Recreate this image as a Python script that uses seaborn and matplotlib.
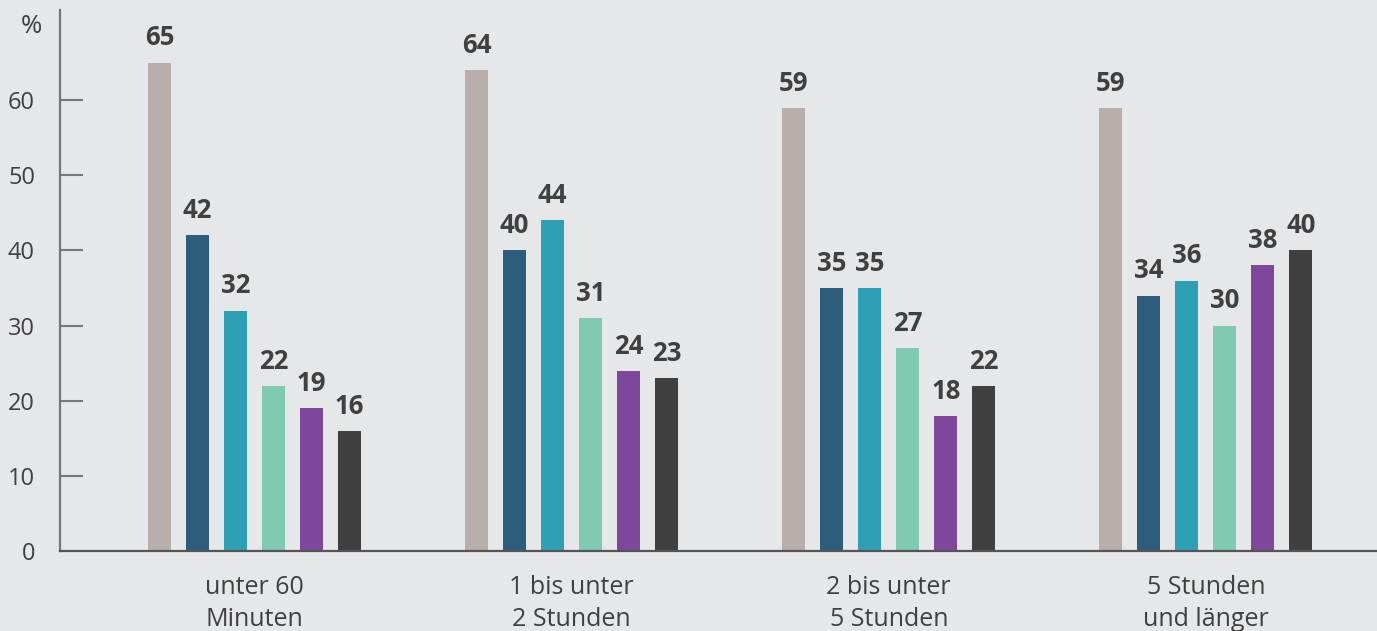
import pandas as pd
import matplotlib
matplotlib.use("Agg")
import matplotlib.pyplot as plt
import matplotlib.transforms as mtransforms
import seaborn as sns

# categories (x axis) and one value list per series
categories = ["unter 60\nMinuten", "1 bis unter\n2 Stunden", "2 bis unter\n5 Stunden", "5 Stunden\nund länger"]
series_names = ["Reihe 1", "Reihe 2", "Reihe 3", "Reihe 4", "Reihe 5", "Reihe 6"]
reihe_1 = [65, 64, 59, 59]
reihe_2 = [42, 40, 35, 34]
reihe_3 = [32, 44, 35, 36]
reihe_4 = [22, 31, 27, 30]
reihe_5 = [19, 24, 18, 38]
reihe_6 = [16, 23, 22, 40]
y_ticks = [0, 10, 20, 30, 40, 50, 60]

colors = ["#B8AFAC", "#2E5D7C", "#2EA0B6", "#7FCAB0", "#7F479C", "#404040"]
bg = "#E6E7E9"
text_col = "#404040"
axis_col = "#76777A"

rows = []
for name, vals in zip(series_names, [reihe_1, reihe_2, reihe_3, reihe_4, reihe_5, reihe_6]):
    for cat, v in zip(categories, vals):
        rows.append({"Dauer": cat, "Reihe": name, "Wert": v})
df = pd.DataFrame(rows)

sns.set_style("white")
plt.rcParams["font.family"] = ["Open Sans", "DejaVu Sans"]

fig = plt.figure(figsize=(13.77, 6.31), dpi=100, facecolor=bg)
ax = fig.add_axes([60 / 1377, 80 / 631, 1317 / 1377, 541 / 631])
ax.set_facecolor(bg)

sns.barplot(data=df, x="Dauer", y="Wert", hue="Reihe", order=categories,
            hue_order=series_names, palette=colors, width=0.72, gap=0.395,
            legend=False, ax=ax, saturation=1, linewidth=0, edgecolor="none")

for cont in ax.containers:
    ax.bar_label(cont, fmt="%d", padding=8, fontsize=18.5, fontweight="bold", color=text_col)

ax.set_xlim(-0.614, 3.54)
ax.set_ylim(0, 72)
ax.set_yticks(y_ticks)
ax.set_xlabel("")
ax.set_ylabel("")

for s in ["top", "right"]:
    ax.spines[s].set_visible(False)
ax.spines["left"].set_color(axis_col)
ax.spines["left"].set_linewidth(1.6)
ax.spines["bottom"].set_color("#555558")
ax.spines["bottom"].set_linewidth(1.6)

# inward tick marks on the y axis (short lines from the spine)
ax.hlines(y_ticks[1:], 0, 23 / 1317, transform=ax.get_yaxis_transform(),
          color=axis_col, linewidth=1.5, zorder=3)

ax.tick_params(axis="y", length=0, labelsize=17, labelcolor=text_col, pad=18)
ax.tick_params(axis="x", bottom=False, length=0, labelsize=18, labelcolor=text_col, pad=17)
for lbl in ax.get_xticklabels():
    lbl.set_linespacing(1.4)

trans = mtransforms.blended_transform_factory(ax.transAxes, ax.transData)
ax.text(-18 / 1317, 69.8, "%", transform=trans, ha="right", va="center",
        fontsize=18.5, color=text_col)

fig.savefig("out.png", dpi=100, facecolor=bg)
